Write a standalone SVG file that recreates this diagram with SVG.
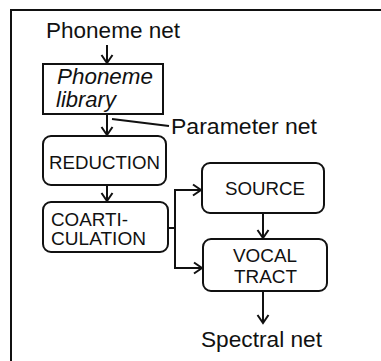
<svg xmlns="http://www.w3.org/2000/svg" width="381" height="361" viewBox="0 0 381 361">
<style>
.box{fill:#fff;stroke:#111;stroke-width:2}
.ln{fill:none;stroke:#111;stroke-width:2}
.t{font-family:"Liberation Sans",Arial,sans-serif;fill:#111}
.lbl{font-size:22px}
.bt{font-size:18.5px}
.it{font-style:italic;font-size:22px}
</style>
<defs>
<marker id="ah" markerUnits="userSpaceOnUse" markerWidth="12" markerHeight="14" refX="10" refY="7" orient="auto" viewBox="0 0 12 14">
<path d="M2,1.5 L10,7 L2,12.5" fill="none" stroke="#111" stroke-width="2"/>
</marker>
</defs>
<rect width="381" height="361" fill="#fff"/>
<path class="ln" d="M11,361 V10 H381"/>
<g id="connectors">
<line class="ln" x1="107" y1="45" x2="107" y2="63" marker-end="url(#ah)"/>
<line class="ln" x1="107" y1="114" x2="107" y2="135" marker-end="url(#ah)"/>
<line class="ln" x1="112" y1="119" x2="169" y2="126" stroke-width="1.5"/>
<line class="ln" x1="107" y1="185" x2="107" y2="201" marker-end="url(#ah)"/>
<path class="ln" d="M168,228 H175 M175,189 V269"/>
<line class="ln" x1="174" y1="190" x2="201" y2="190" marker-end="url(#ah)"/>
<line class="ln" x1="174" y1="268" x2="202" y2="268" marker-end="url(#ah)"/>
<line class="ln" x1="263" y1="213" x2="263" y2="238" marker-end="url(#ah)"/>
<line class="ln" x1="263" y1="291" x2="263" y2="323" marker-end="url(#ah)"/>
</g>
<g id="phoneme-net"><text class="t lbl" x="46" y="38" textLength="134" lengthAdjust="spacingAndGlyphs">Phoneme net</text></g>
<g id="library">
<rect class="box" x="43" y="64" width="120" height="50"/>
<text class="t it" x="57" y="84" textLength="96" lengthAdjust="spacingAndGlyphs">Phoneme</text>
<text class="t it" x="56" y="107">library</text>
</g>
<g id="parameter-net"><text class="t lbl" x="171" y="134" textLength="146" lengthAdjust="spacingAndGlyphs">Parameter net</text></g>
<g id="reduction">
<rect class="box" x="43" y="136" width="123" height="49" rx="8"/>
<text class="t bt" x="49" y="169" textLength="111" lengthAdjust="spacingAndGlyphs">REDUCTION</text>
</g>
<g id="coarticulation">
<rect class="box" x="43" y="202" width="125" height="50" rx="8"/>
<text class="t bt" x="51" y="226" textLength="77" lengthAdjust="spacingAndGlyphs">COARTI-</text>
<text class="t bt" x="51" y="245" textLength="95" lengthAdjust="spacingAndGlyphs">CULATION</text>
</g>
<g id="source">
<rect class="box" x="202" y="163" width="122" height="50" rx="8"/>
<text class="t bt" x="225" y="195" textLength="80" lengthAdjust="spacingAndGlyphs">SOURCE</text>
</g>
<g id="vocal-tract">
<rect class="box" x="203" y="239" width="124" height="52" rx="8"/>
<text class="t bt" x="233" y="262" textLength="64" lengthAdjust="spacingAndGlyphs">VOCAL</text>
<text class="t bt" x="234" y="283" textLength="63" lengthAdjust="spacingAndGlyphs">TRACT</text>
</g>
<g id="spectral-net"><text class="t lbl" x="201" y="347" textLength="121" lengthAdjust="spacingAndGlyphs">Spectral net</text></g>
</svg>
